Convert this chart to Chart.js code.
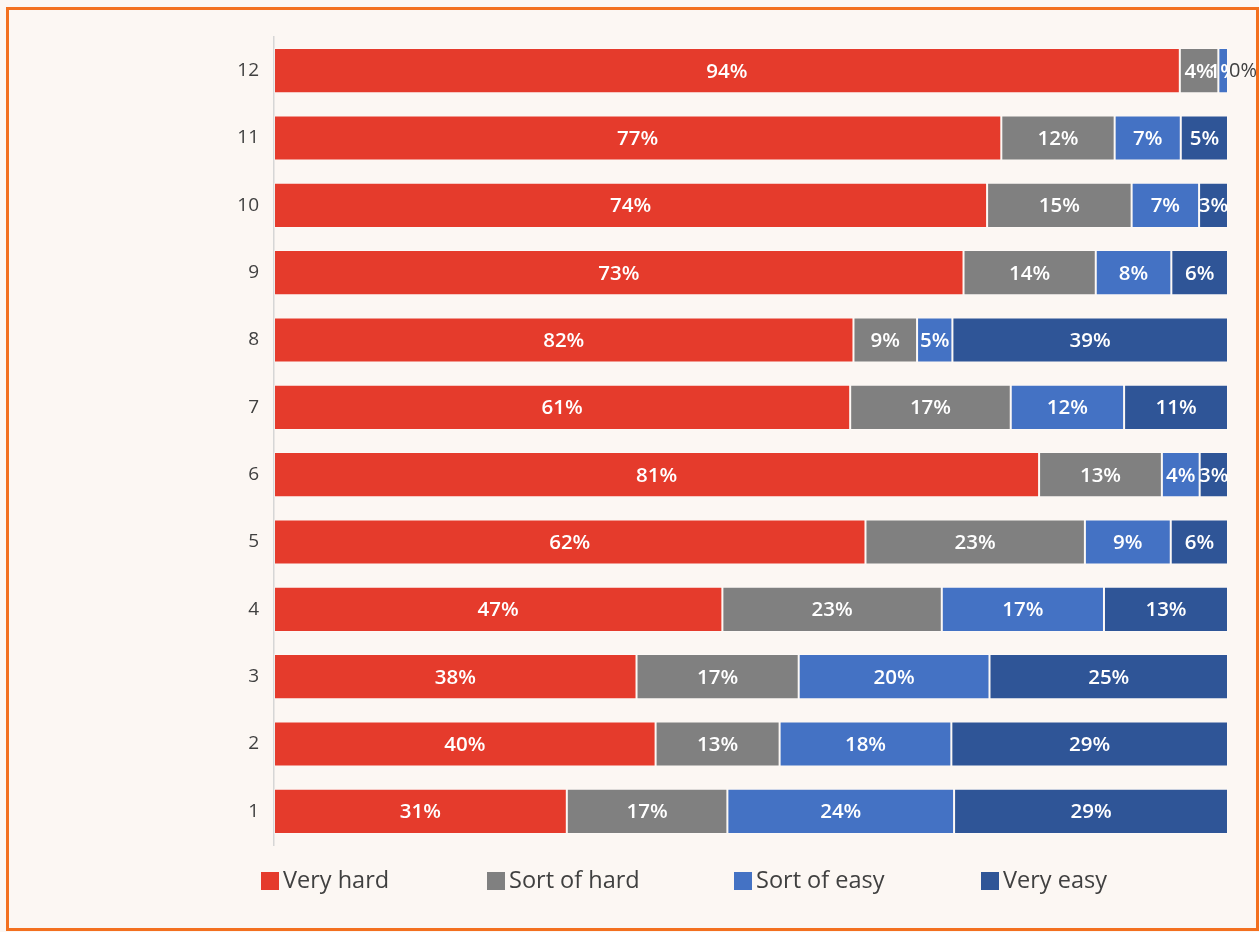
<!DOCTYPE html>
<html>
<head>
<meta charset="utf-8">
<script src="https://cdn.jsdelivr.net/npm/chart.js@4.4.1/dist/chart.umd.min.js"></script>
<style>
  html, body { margin: 0; padding: 0; background: #fcf7f3; }
  #wrap { position: relative; width: 1259px; height: 932px; overflow: hidden; }
  #frame { position: absolute; left: 6px; top: 7px; width: 1253px; height: 924px;
           box-sizing: border-box; border: 3px solid #f3701f; }
  #chart { position: absolute; left: 0; top: 0; }
  .lg { position: absolute; top: 865px; font: 23.5px "Open Sans", sans-serif; color: #404040;
        white-space: nowrap; line-height: 28px; }
  .lg i { display: inline-block; width: 18px; height: 18px; vertical-align: -2px; margin-right: 4px; }
</style>
</head>
<body>
<div id="wrap">
  <div id="frame"></div>
  <canvas id="chart" width="1259" height="932"></canvas>
  <div id="legend"></div>
</div>
<script>
// one row per question, bottom (1) to top (12)
const categories = ['1', '2', '3', '4', '5', '6', '7', '8', '9', '10', '11', '12'];
const seriesNames = ['Very hard', 'Sort of hard', 'Sort of easy', 'Very easy'];
const veryHard   = [31, 40, 38, 47, 62, 81, 61, 82, 73, 74, 77, 94];
const sortOfHard = [17, 13, 17, 23, 23, 13, 17,  9, 14, 15, 12,  4];
const sortOfEasy = [24, 18, 20, 17,  9,  4, 12,  5,  8,  7,  7,  1];
const veryEasy   = [29, 29, 25, 13,  6,  3, 11, 39,  6,  3,  5,  0];
const colors = ['#e53b2c', '#808080', '#4472c4', '#2f5597'];

const series = [veryHard, sortOfHard, sortOfEasy, veryEasy];
const totals = categories.map((c, j) => series.reduce((s, arr) => s + arr[j], 0));

// legend (Excel-style, spaced items)
const legendX = [261, 487, 734, 981];
const legendEl = document.getElementById('legend');
seriesNames.forEach((name, i) => {
  const d = document.createElement('div');
  d.className = 'lg';
  d.style.left = legendX[i] + 'px';
  d.innerHTML = '<i style="background:' + colors[i] + '"></i>' + name;
  legendEl.appendChild(d);
});

const segLabels = {
  id: 'segLabels',
  afterDatasetsDraw(chart) {
    const ctx = chart.ctx;
    ctx.save();
    ctx.textBaseline = 'middle';
    chart.data.datasets.forEach((ds, i) => {
      chart.getDatasetMeta(i).data.forEach((bar, j) => {
        const v = ds.raw[j];
        if (v === 0) {
          ctx.font = '20px "Open Sans"';
          ctx.fillStyle = '#404040';
          ctx.textAlign = 'left';
          ctx.fillText(v + '%', bar.x + 1, bar.y + 1);
        } else {
          ctx.font = '600 20.5px "Open Sans"';
          ctx.fillStyle = '#ffffff';
          ctx.textAlign = 'center';
          ctx.fillText(v + '%', (bar.x + bar.base) / 2, bar.y + 1);
        }
      });
    });
    ctx.restore();
  }
};

new Chart(document.getElementById('chart').getContext('2d'), {
  type: 'bar',
  data: {
    labels: categories,
    datasets: series.map((arr, i) => ({
      label: seriesNames[i],
      raw: arr,
      data: arr.map((v, j) => v / totals[j] * 100),
      backgroundColor: colors[i],
      borderColor: 'rgba(255,255,255,0.3)',
      borderWidth: 1,
      borderSkipped: false,
      categoryPercentage: 1,
      barPercentage: 0.67
    }))
  },
  options: {
    indexAxis: 'y',
    responsive: false,
    animation: false,
    layout: { padding: { left: 200, right: 31, top: 37, bottom: 87 } },
    plugins: { legend: { display: false }, tooltip: { enabled: false } },
    scales: {
      x: { stacked: true, min: 0, max: 100, display: false },
      y: {
        stacked: true,
        reverse: true,
        afterFit: (s) => { s.width = 74; },
        grid: { display: false, drawTicks: false },
        border: { display: true, color: '#d6d6d6', width: 1.5 },
        ticks: { padding: 15, color: '#404040', font: { family: 'Open Sans', size: 19 } }
      }
    }
  },
  plugins: [segLabels]
});
</script>
</body>
</html>
